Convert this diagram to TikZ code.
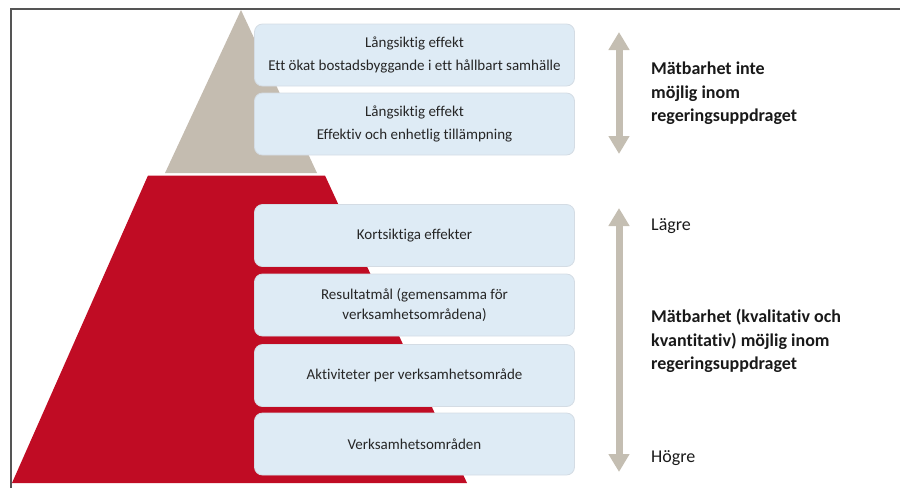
\documentclass[tikz,border=0pt]{standalone}
\usepackage{fontspec}
\setmainfont[Ligatures=NoCommon]{Carlito}
\usetikzlibrary{arrows.meta}
\definecolor{pyrred}{RGB}{192,12,36}
\definecolor{pyrbeige}{RGB}{196,188,176}
\definecolor{arrowbeige}{RGB}{196,190,178}
\definecolor{boxblue}{RGB}{222,235,245}
\definecolor{boxline}{RGB}{212,220,228}
\definecolor{framegray}{RGB}{85,85,85}
\tikzset{
  levelbox/.style={draw=boxline, line width=0.8pt, fill=boxblue, rounded corners=8pt,
    minimum width=320pt, minimum height=62pt, inner xsep=0pt, align=center,
    text=black!85, font=\fontsize{15}{22.5}\selectfont},
  sidetext/.style={anchor=base west, align=left, inner sep=0pt, text=black!90,
    font=\fontsize{18}{23.5}\selectfont},
  sidebold/.style={sidetext, font=\fontsize{18}{23.5}\selectfont\bfseries},
  scalearrow/.style={draw=arrowbeige, line width=7pt,
    {Triangle[width=20pt,length=18pt]}-{Triangle[width=20pt,length=18pt]}},
}
\begin{document}
\begin{tikzpicture}[x=1pt,y=-1pt]
\useasboundingbox (0,0) rectangle (900,488);
% frame
\draw[framegray, line width=1.6pt] (11,488) -- (11,8.8) -- (900,8.8);
% pyramid
\fill[pyrbeige] (241,10) -- (317,173) -- (165,173) -- cycle;
\fill[pyrred] (148,175.5) -- (325,175.5) -- (467,483) -- (12,483) -- cycle;
% boxes
\node[levelbox] (b1) at (414.5,55) {Långsiktig effekt\\Ett ökat bostadsbyggande i ett hållbart samhälle};
\node[levelbox] (b2) at (414.5,124) {Långsiktig effekt\\Effektiv och enhetlig tillämpning};
\node[levelbox] (b3) at (414.5,235.5) {Kortsiktiga effekter};
\node[levelbox, font=\fontsize{15}{20}\selectfont] (b4) at (414.5,305) {Resultatmål (gemensamma för\\verksamhetsområdena)};
\node[levelbox] (b5) at (414.5,375.5) {Aktiviteter per verksamhetsområde};
\node[levelbox] (b6) at (414.5,444) {Verksamhetsområden};
% arrows
\coordinate (a1t) at (619,32);
\coordinate (a1b) at (619,154);
\coordinate (a2t) at (619,208);
\coordinate (a2b) at (619,472);
\draw[scalearrow] (a1t) -- (a1b);
\draw[scalearrow] (a2t) -- (a2b);
% side texts (base anchor = baseline of the last line)
\node[sidebold] (t1) at (651,121.5) {Mätbarhet inte\\möjlig inom\\regeringsuppdraget};
\node[sidetext] (t2) at (651,230) {Lägre};
\node[sidebold] (t3) at (651,369.5) {Mätbarhet (kvalitativ och\\kvantitativ) möjlig inom\\regeringsuppdraget};
\node[sidetext] (t4) at (651,462) {Högre};
\end{tikzpicture}
\end{document}
